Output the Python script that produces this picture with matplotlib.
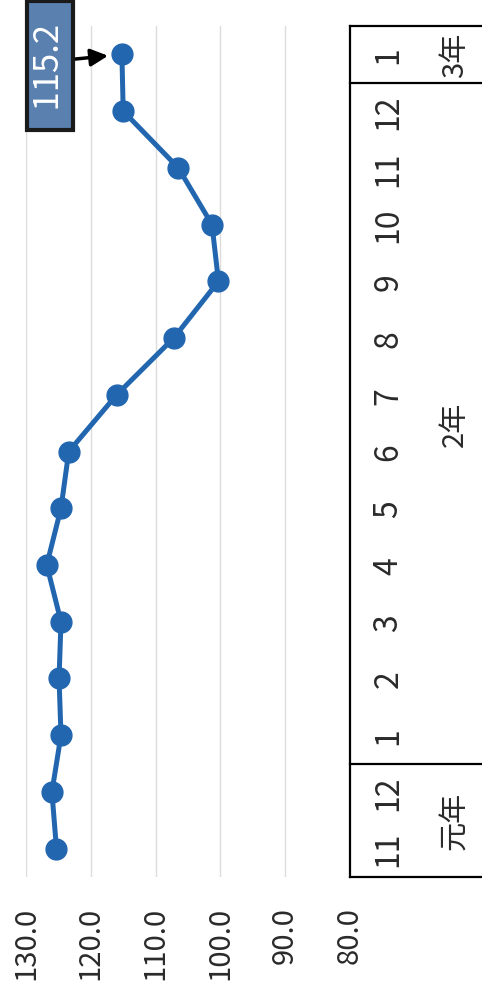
import matplotlib
matplotlib.use("Agg")
import matplotlib.pyplot as plt

plt.rcParams['font.family'] = ['Noto Sans CJK JP', 'DejaVu Sans']

# データ（元年11月〜3年1月）
months = ["11", "12", "1", "2", "3", "4", "5", "6", "7", "8", "9", "10", "11", "12", "1"]
years = ["元年", "2年", "3年"]
year_counts = [2, 12, 1]
values = [125.3, 126.0, 124.6, 124.9, 124.6, 126.8, 124.6, 123.4,
          116.0, 107.2, 100.3, 101.3, 106.5, 115.0, 115.2]
value_ticks = [130, 120, 110, 100, 90, 80]

line_col = "#2266b0"
txt_col = "#2a2a2a"

fig = plt.figure(figsize=(4.82, 9.95), dpi=100)

# 図全体が90度回転している（値軸が横、カテゴリが縦）
ax = fig.add_axes([26/482, 117/995, 324/482, 851/995])
idx = list(range(len(values)))
ax.plot(values, idx, color=line_col, lw=3.6, marker="o", ms=15,
        mfc=line_col, mec=line_col, zorder=3)
ax.set_xlim(130, 80)
ax.set_ylim(-0.5, len(values) - 0.5)
ax.set_xticks(value_ticks)
ax.set_xticklabels([f"{v:.1f}" for v in value_ticks], rotation=90,
                   fontsize=21, color=txt_col)
ax.tick_params(axis="x", length=0, pad=21)
ax.set_yticks([])
for s in ax.spines.values():
    s.set_visible(False)
ax.grid(axis="x", color="#dcdcdc", lw=1)
ax.set_axisbelow(True)

# 最新値の吹き出し
ax.annotate(f"  {values[-1]:.1f}  ", xy=(values[-1], idx[-1]), xytext=(126.3, 13.8),
            textcoords="data", rotation=90, color="white", fontsize=25,
            ha="center", va="center", annotation_clip=False,
            bbox=dict(boxstyle="square,pad=0.17", fc="#5a80b0", ec="#1a1a1a", lw=3),
            arrowprops=dict(arrowstyle="-|>", color="black", lw=2.5,
                            mutation_scale=26, shrinkA=0, shrinkB=10,
                            relpos=(1, 0.55)))

# カテゴリ軸（月・年の表）
axt = fig.add_axes([350/482, 117/995, 132/482, 851/995], sharey=ax)
axt.set_xlim(0, 1)
axt.axis("off")
axt.axvline(0, color="black", lw=1.6, clip_on=False)

bounds = [-0.5]
for c in year_counts:
    bounds.append(bounds[-1] + c)
for b in bounds:
    axt.axhline(b, color="black", lw=1.6, clip_on=False)

for i, m in enumerate(months):
    axt.text(0.29, i, m, rotation=90, ha="center", va="center",
             fontsize=23, color=txt_col)
for k, y in enumerate(years):
    mid = (bounds[k] + bounds[k + 1]) / 2
    axt.text(0.795, mid, y, rotation=90, ha="center", va="center",
             fontsize=21, color=txt_col)

fig.savefig("out.png", dpi=100)
